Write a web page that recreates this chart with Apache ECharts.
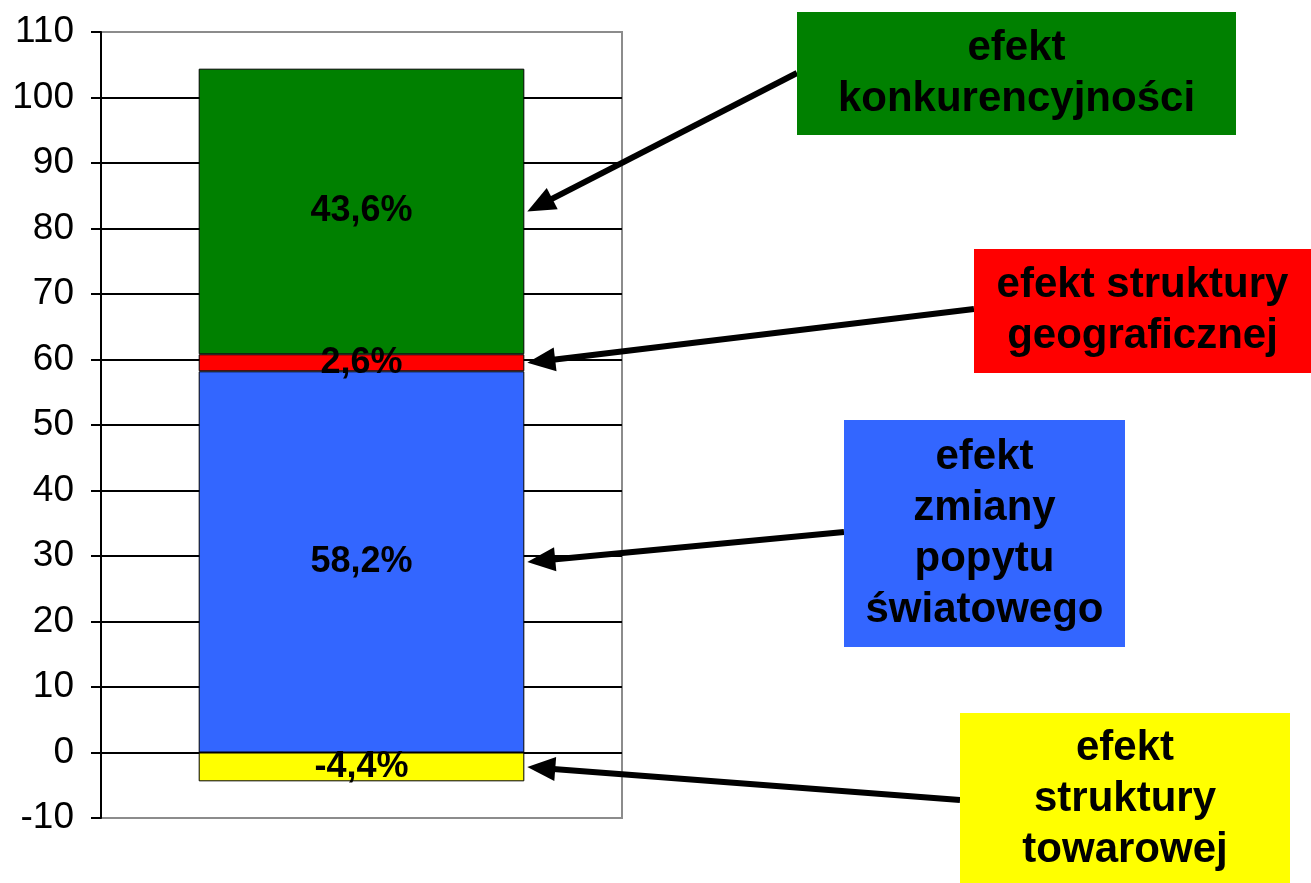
<!DOCTYPE html>
<html>
<head>
<meta charset="utf-8">
<script src="https://cdn.jsdelivr.net/npm/echarts@6/dist/echarts.min.js"></script>
<style>
html, body { margin: 0; padding: 0; background: #fff; }
#chart { width: 1311px; height: 883px; }
</style>
</head>
<body>
<div id="chart"></div>
<script>
// dane: składowe zmiany (w %), od dołu stosu
var categories = ['zmiana'];
var seriesNames = ['efekt struktury towarowej', 'efekt zmiany popytu światowego', 'efekt struktury geograficznej', 'efekt konkurencyjności'];
var seriesValues = [-4.4, 58.2, 2.6, 43.6];
var seriesColors = ['#ffff00', '#3366ff', '#ff0000', '#008000'];
var boxTexts = ['efekt\nstruktury\ntowarowej', 'efekt\nzmiany\npopytu\nświatowego', 'efekt struktury\ngeograficznej', 'efekt\nkonkurencyjności'];

var FONT = '"Liberation Sans", Arial, sans-serif';
var GRID_LEFT = 101, GRID_RIGHT = 689, GRID_TOP = 32, GRID_BOTTOM = 65;
var BAR_RATIO = 0.625;

// ramki z opisami: x, y, szer., wys., y punktu zaczepienia strzałki
var boxLayout = [
  [960, 713, 330, 172, 800],
  [844, 420, 281, 227, 532],
  [974, 249, 337, 124, 309],
  [797, 12, 439, 123, 73]
];

var chart = echarts.init(document.getElementById('chart'));

var series = seriesValues.map(function (v, i) {
  return {
    name: seriesNames[i],
    type: 'bar',
    stack: 'total',
    barWidth: (BAR_RATIO * 100) + '%',
    data: [v],
    itemStyle: { color: seriesColors[i], borderColor: '#000', borderWidth: 1 },
    label: {
      show: true,
      position: 'inside',
      color: '#000',
      fontFamily: FONT,
      fontWeight: 'bold',
      fontSize: 36,
      formatter: function (p) {
        return p.value.toFixed(1).replace('.', ',') + '%';
      }
    }
  };
});

chart.setOption({
  animation: false,
  backgroundColor: '#fff',
  grid: {
    left: GRID_LEFT, right: GRID_RIGHT, top: GRID_TOP, bottom: GRID_BOTTOM,
    show: true, borderColor: '#8c8c8c', borderWidth: 2
  },
  xAxis: {
    type: 'category',
    data: categories,
    axisLine: { show: false },
    axisTick: { show: false },
    axisLabel: { show: false }
  },
  yAxis: {
    type: 'value',
    min: -10,
    max: 110,
    interval: 10,
    axisLine: { show: true, lineStyle: { color: '#000', width: 2 } },
    axisTick: { show: true, length: 10, lineStyle: { color: '#000', width: 2 } },
    axisLabel: { color: '#000', fontFamily: FONT, fontSize: 37, margin: 27 },
    splitLine: {
      show: true,
      showMinLine: false,
      showMaxLine: false,
      lineStyle: { color: '#000', width: 2 }
    }
  },
  series: series
});

// strzałki i ramki z opisami
function arrow(sx, sy, tx, ty) {
  var dx = tx - sx, dy = ty - sy;
  var len = Math.sqrt(dx * dx + dy * dy);
  var ux = dx / len, uy = dy / len;
  var L = 28, W = 12;
  var bx = tx - ux * L, by = ty - uy * L;
  return [
    {
      type: 'line',
      shape: { x1: sx, y1: sy, x2: bx + ux * 2, y2: by + uy * 2 },
      style: { stroke: '#000', lineWidth: 6 },
      z: 10
    },
    {
      type: 'polygon',
      shape: { points: [[tx, ty], [bx - uy * W, by + ux * W], [bx + uy * W, by - ux * W]] },
      style: { fill: '#000' },
      z: 10
    }
  ];
}

var gridW = 1311 - GRID_LEFT - GRID_RIGHT;
var barRight = chart.convertToPixel({ gridIndex: 0 }, [0, 0])[0] + gridW * BAR_RATIO / 2;
var graphics = [];
var posBase = 0, negBase = 0;
seriesValues.forEach(function (v, i) {
  var mid;
  if (v >= 0) { mid = posBase + v / 2; posBase += v; }
  else { mid = negBase + v / 2; negBase += v; }
  var ty = chart.convertToPixel({ gridIndex: 0 }, [0, mid])[1];
  var b = boxLayout[i];
  graphics = graphics.concat(arrow(b[0], b[4], barRight + 3, ty));
  graphics.push({
    type: 'rect',
    shape: { x: b[0], y: b[1], width: b[2], height: b[3] },
    style: { fill: seriesColors[i] },
    z: 11
  });
  graphics.push({
    type: 'text',
    x: b[0] + b[2] / 2,
    y: b[1] + b[3] / 2,
    style: {
      text: boxTexts[i],
      fill: '#000',
      font: 'bold 42px ' + FONT,
      align: 'center',
      verticalAlign: 'middle',
      lineHeight: 51
    },
    z: 12
  });
});

chart.setOption({ graphic: graphics });
</script>
</body>
</html>
